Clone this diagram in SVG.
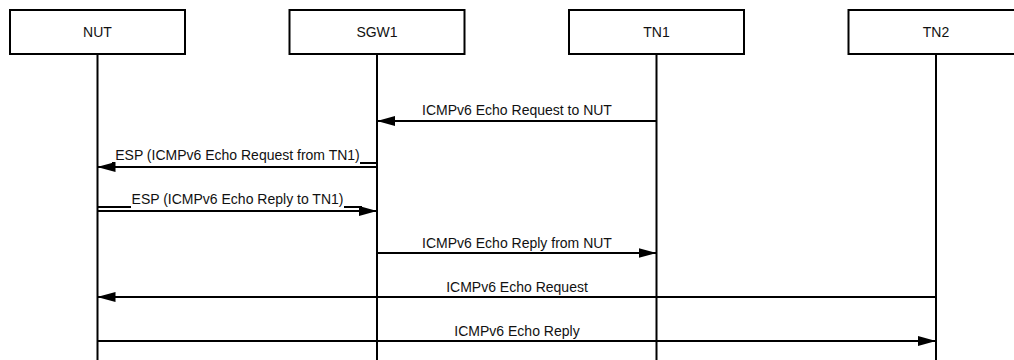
<svg xmlns="http://www.w3.org/2000/svg" width="1014" height="360" viewBox="0 0 1014 360">
<style>
.box{fill:#fff;stroke:#000;stroke-width:2}
.life{stroke:#000;stroke-width:2;fill:none}
.msg{stroke:#000;stroke-width:2;fill:none}
.t{font-family:"Liberation Sans",Arial,sans-serif;font-size:14px;fill:#111;text-anchor:middle}
</style>
<defs>
<marker id="ah" viewBox="0 0 18 10" refX="18" refY="5" markerWidth="18" markerHeight="10" markerUnits="userSpaceOnUse" orient="auto">
<path d="M0,0 L18,5 L0,10 Z" fill="#000"/>
</marker>
</defs>
<rect width="1014" height="360" fill="#fff"/>
<g id="NUT">
<line class="life" x1="97.5" y1="54" x2="97.5" y2="360"/>
<rect class="box" x="10" y="10" width="175" height="44"/>
<text class="t" x="97.5" y="37">NUT</text>
</g>
<g id="SGW1">
<line class="life" x1="377" y1="54" x2="377" y2="360"/>
<rect class="box" x="289.5" y="10" width="175" height="44"/>
<text class="t" x="377" y="37">SGW1</text>
</g>
<g id="TN1">
<line class="life" x1="656.5" y1="54" x2="656.5" y2="360"/>
<rect class="box" x="569" y="10" width="175" height="44"/>
<text class="t" x="656.5" y="37">TN1</text>
</g>
<g id="TN2">
<line class="life" x1="936" y1="54" x2="936" y2="360"/>
<rect class="box" x="848.5" y="10" width="175" height="44"/>
<text class="t" x="936" y="37">TN2</text>
</g>
<g id="connectors">
<line class="msg" x1="656.5" y1="121" x2="377" y2="121" marker-end="url(#ah)"/>
<text class="t" x="517" y="115">ICMPv6 Echo Request to NUT</text>

<line class="msg" x1="377" y1="167" x2="97.5" y2="167" marker-end="url(#ah)"/>
<line class="msg" x1="377" y1="163" x2="360" y2="163"/>
<line class="msg" x1="115" y1="163" x2="112" y2="163"/>
<text class="t" x="237.5" y="159.5">ESP (ICMPv6 Echo Request from TN1)</text>

<line class="msg" x1="97.5" y1="211" x2="377" y2="211" marker-end="url(#ah)"/>
<line class="msg" x1="97.5" y1="207" x2="131" y2="207"/>
<line class="msg" x1="344" y1="207" x2="362" y2="207"/>
<text class="t" x="237.5" y="203.5">ESP (ICMPv6 Echo Reply to TN1)</text>

<line class="msg" x1="377" y1="253" x2="656.5" y2="253" marker-end="url(#ah)"/>
<text class="t" x="517" y="247.5">ICMPv6 Echo Reply from NUT</text>

<line class="msg" x1="936" y1="297" x2="97.5" y2="297" marker-end="url(#ah)"/>
<text class="t" x="517" y="291.5">ICMPv6 Echo Request</text>

<line class="msg" x1="97.5" y1="341" x2="936" y2="341" marker-end="url(#ah)"/>
<text class="t" x="517" y="335.5">ICMPv6 Echo Reply</text>
</g>
</svg>
